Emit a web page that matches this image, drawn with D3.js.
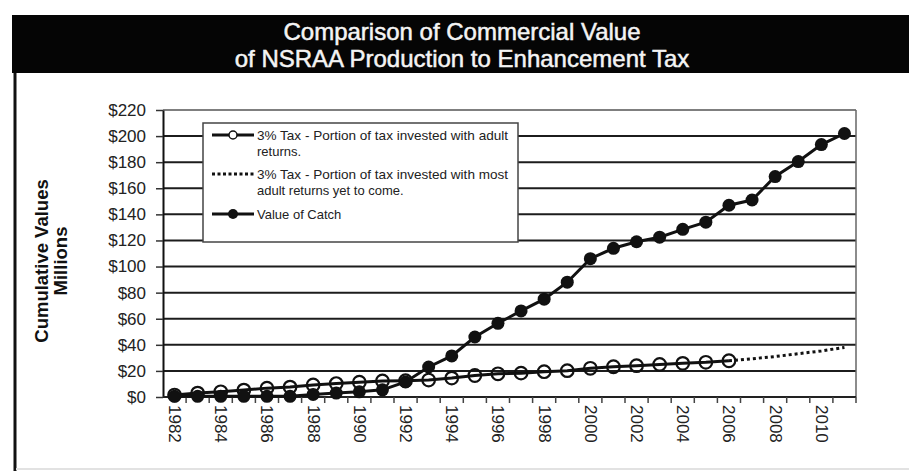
<!DOCTYPE html>
<html lang="en">
<head>
<meta charset="utf-8">
<title>NSRAA Production vs Enhancement Tax</title>
<script src="https://d3js.org/d3.v7.min.js"></script>
<style>
  body { margin: 0; background: #fff; }
  text { font-family: "Liberation Sans", Arial, sans-serif; }
</style>
</head>
<body>
<script>
// chart data
var years = [1982, 1983, 1984, 1985, 1986, 1987, 1988, 1989, 1990, 1991,
             1992, 1993, 1994, 1995, 1996, 1997, 1998, 1999, 2000, 2001,
             2002, 2003, 2004, 2005, 2006, 2007, 2008, 2009, 2010, 2011];
var catchValue = [0.5, 0.5, 0.5, 0.5, 0.5, 0.5, 2, 3, 4, 5.5,
                  11.5, 23, 31.5, 46, 56.5, 66, 75, 88, 106, 114,
                  119, 122.5, 128.5, 134, 147, 151, 169, 180.5, 193.5, 202];
var taxYears = years.slice(0, 25);           // 1982-2006
var taxAdult = [1.5, 3, 4, 5.3, 6.8, 7.6, 9.2, 10.3, 11.3, 12.3,
                12.5, 13, 14.5, 16.5, 17.8, 18.3, 19.4, 20.2, 22, 23.2,
                24, 25, 25.8, 26.6, 27.8];
var futureYears = [2006, 2007, 2008, 2009, 2010, 2011];
var taxFuture = [27.8, 29.3, 31, 33.2, 35.3, 38];
var yTicks = [0, 20, 40, 60, 80, 100, 120, 140, 160, 180, 200, 220];
var titleLines = ["Comparison of Commercial Value", "of NSRAA Production to Enhancement Tax"];
var legendItems = [
  {lines: ["3% Tax  -  Portion of tax invested with adult", "returns."], kind: "open"},
  {lines: ["3% Tax - Portion of  tax invested with most", "adult returns yet to come."], kind: "dotted"},
  {lines: ["Value of Catch"], kind: "filled"}
];

var w = 909, h = 473;
var plot = {left: 163, right: 856, top: 110, bottom: 397};

var svg = d3.select("body").append("svg")
    .attr("width", w)
    .attr("height", h);

svg.append("rect").attr("width", w).attr("height", h).attr("fill", "#fff");

// frame: black title bar, left rule, faint bottom rule
svg.append("rect")
    .attr("x", 12).attr("y", 15)
    .attr("width", w - 12).attr("height", 58)
    .attr("fill", "#050505");
svg.append("line")
    .attr("x1", 15).attr("x2", 15).attr("y1", 73).attr("y2", 471)
    .attr("stroke", "#111").attr("stroke-width", 3);
svg.append("line")
    .attr("x1", 16).attr("x2", w).attr("y1", 469).attr("y2", 469)
    .attr("stroke", "#e2e2e2").attr("stroke-width", 2);

svg.selectAll("text.title")
    .data(titleLines)
    .enter().append("text")
    .attr("class", "title")
    .attr("x", 462)
    .attr("y", (d, i) => 40 + i * 27)
    .attr("text-anchor", "middle")
    .attr("fill", "#f4f4f4")
    .style("font-size", "24px")
    .attr("stroke", "#f4f4f4")
    .attr("stroke-width", 0.5)
    .text(d => d);

// scales
var x = d3.scalePoint()
    .domain(years)
    .range([plot.left, plot.right])
    .padding(0.5);
var step = x.step();

var y = d3.scaleLinear()
    .domain([0, 220])
    .range([plot.bottom, plot.top]);

// gridlines
svg.append("g")
    .selectAll("line")
    .data(yTicks.filter(d => d > 0))
    .enter().append("line")
    .attr("x1", plot.left).attr("x2", plot.right)
    .attr("y1", d => y(d)).attr("y2", d => y(d))
    .attr("stroke", d => d == 220 ? "#555" : "#1c1c1c")
    .attr("stroke-width", d => d == 220 ? 1.5 : 2);

// right border of plot area
svg.append("line")
    .attr("x1", plot.right).attr("x2", plot.right)
    .attr("y1", plot.top).attr("y2", plot.bottom)
    .attr("stroke", "#666").attr("stroke-width", 1.5);

// y axis
var yAxis = svg.append("g")
    .attr("transform", "translate(" + plot.left + ",0)")
    .call(d3.axisLeft(y).tickValues(yTicks).tickFormat(d => "$" + d)
        .tickSize(7).tickSizeOuter(0).tickPadding(10));
yAxis.select(".domain").attr("stroke", "#111").attr("stroke-width", 2);
yAxis.selectAll(".tick line").attr("stroke", "#333").attr("stroke-width", 1.5);
yAxis.selectAll("text")
    .attr("fill", "#222")
    .style("font-size", "17px")
    .style("font-family", "'Liberation Sans', Arial, sans-serif");

// x axis: labels every other year, minor ticks on every category edge
var xAxis = svg.append("g")
    .attr("transform", "translate(0," + plot.bottom + ")")
    .call(d3.axisBottom(x).tickValues(years.filter(d => d % 2 == 0))
        .tickSize(0).tickSizeOuter(0).tickPadding(0));
xAxis.select(".domain").remove();
xAxis.selectAll("text")
    .attr("transform", "rotate(90)")
    .attr("x", 8)
    .attr("y", 0)
    .attr("dy", "0.35em")
    .attr("text-anchor", "start")
    .attr("fill", "#222")
    .style("font-size", "17px")
    .style("font-family", "'Liberation Sans', Arial, sans-serif");

svg.append("line")
    .attr("x1", plot.left).attr("x2", plot.right)
    .attr("y1", plot.bottom).attr("y2", plot.bottom)
    .attr("stroke", "#222").attr("stroke-width", 2);
svg.append("g")
    .selectAll("line")
    .data(years)
    .enter().append("line")
    .attr("x1", d => x(d) + step / 2).attr("x2", d => x(d) + step / 2)
    .attr("y1", plot.bottom).attr("y2", plot.bottom + 6)
    .attr("stroke", "#444").attr("stroke-width", 1.5);

// y axis title
svg.selectAll("text.ylab")
    .data(["Cumulative Values", "Millions"])
    .enter().append("text")
    .attr("class", "ylab")
    .attr("transform", (d, i) => "translate(" + (48 + i * 19) + ",261) rotate(-90)")
    .attr("text-anchor", "middle")
    .attr("fill", "#111")
    .style("font-size", "18.5px")
    .style("font-weight", "bold")
    .text(d => d);

// series
var line = d3.line()
    .x(d => x(d[0]))
    .y(d => y(d[1]));

var taxPts = taxYears.map((d, i) => [d, taxAdult[i]]);
var futurePts = futureYears.map((d, i) => [d, taxFuture[i]]);
var catchPts = years.map((d, i) => [d, catchValue[i]]);

svg.append("path")
    .datum(futurePts)
    .attr("d", line)
    .attr("fill", "none")
    .attr("stroke", "#111")
    .attr("stroke-width", 3)
    .attr("stroke-dasharray", "3,3");

svg.append("path")
    .datum(taxPts)
    .attr("d", line)
    .attr("fill", "none")
    .attr("stroke", "#111")
    .attr("stroke-width", 3);

svg.append("g")
    .selectAll("circle")
    .data(taxPts)
    .enter().append("circle")
    .attr("cx", d => x(d[0]))
    .attr("cy", d => y(d[1]))
    .attr("r", 6.3)
    .attr("fill", "none")
    .attr("stroke", "#111")
    .attr("stroke-width", 2.2);

svg.append("path")
    .datum(catchPts)
    .attr("d", line)
    .attr("fill", "none")
    .attr("stroke", "#111")
    .attr("stroke-width", 3);

svg.append("g")
    .selectAll("circle")
    .data(catchPts)
    .enter().append("circle")
    .attr("cx", d => x(d[0]))
    .attr("cy", d => y(d[1]))
    .attr("r", 6.5)
    .attr("fill", "#111");

// legend
var legend = svg.append("g").attr("transform", "translate(203,123)");
legend.append("rect")
    .attr("width", 315).attr("height", 119)
    .attr("fill", "#fff")
    .attr("stroke", "#444").attr("stroke-width", 1.5);

var rowY = [12, 51, 91];
legendItems.forEach(function(item, i) {
  var g = legend.append("g").attr("transform", "translate(0," + rowY[i] + ")");
  g.append("line")
      .attr("x1", 9).attr("x2", 51).attr("y1", 0).attr("y2", 0)
      .attr("stroke", "#111").attr("stroke-width", 3)
      .attr("stroke-dasharray", item.kind == "dotted" ? "3,2.5" : null);
  if (item.kind == "open") {
    g.append("circle").attr("cx", 30).attr("r", 4)
        .attr("fill", "#fff").attr("stroke", "#111").attr("stroke-width", 1.5);
  } else if (item.kind == "filled") {
    g.append("circle").attr("cx", 30).attr("r", 5).attr("fill", "#111");
  }
  g.selectAll("text")
      .data(item.lines)
      .enter().append("text")
      .attr("x", 54)
      .attr("y", (d, j) => 4.5 + j * 16)
      .attr("fill", "#222")
      .style("font-size", "13px")
      .attr("textLength", d => d.length > 30 ? 251 : null)
      .attr("lengthAdjust", "spacingAndGlyphs")
      .text(d => d);
});
</script>
</body>
</html>
